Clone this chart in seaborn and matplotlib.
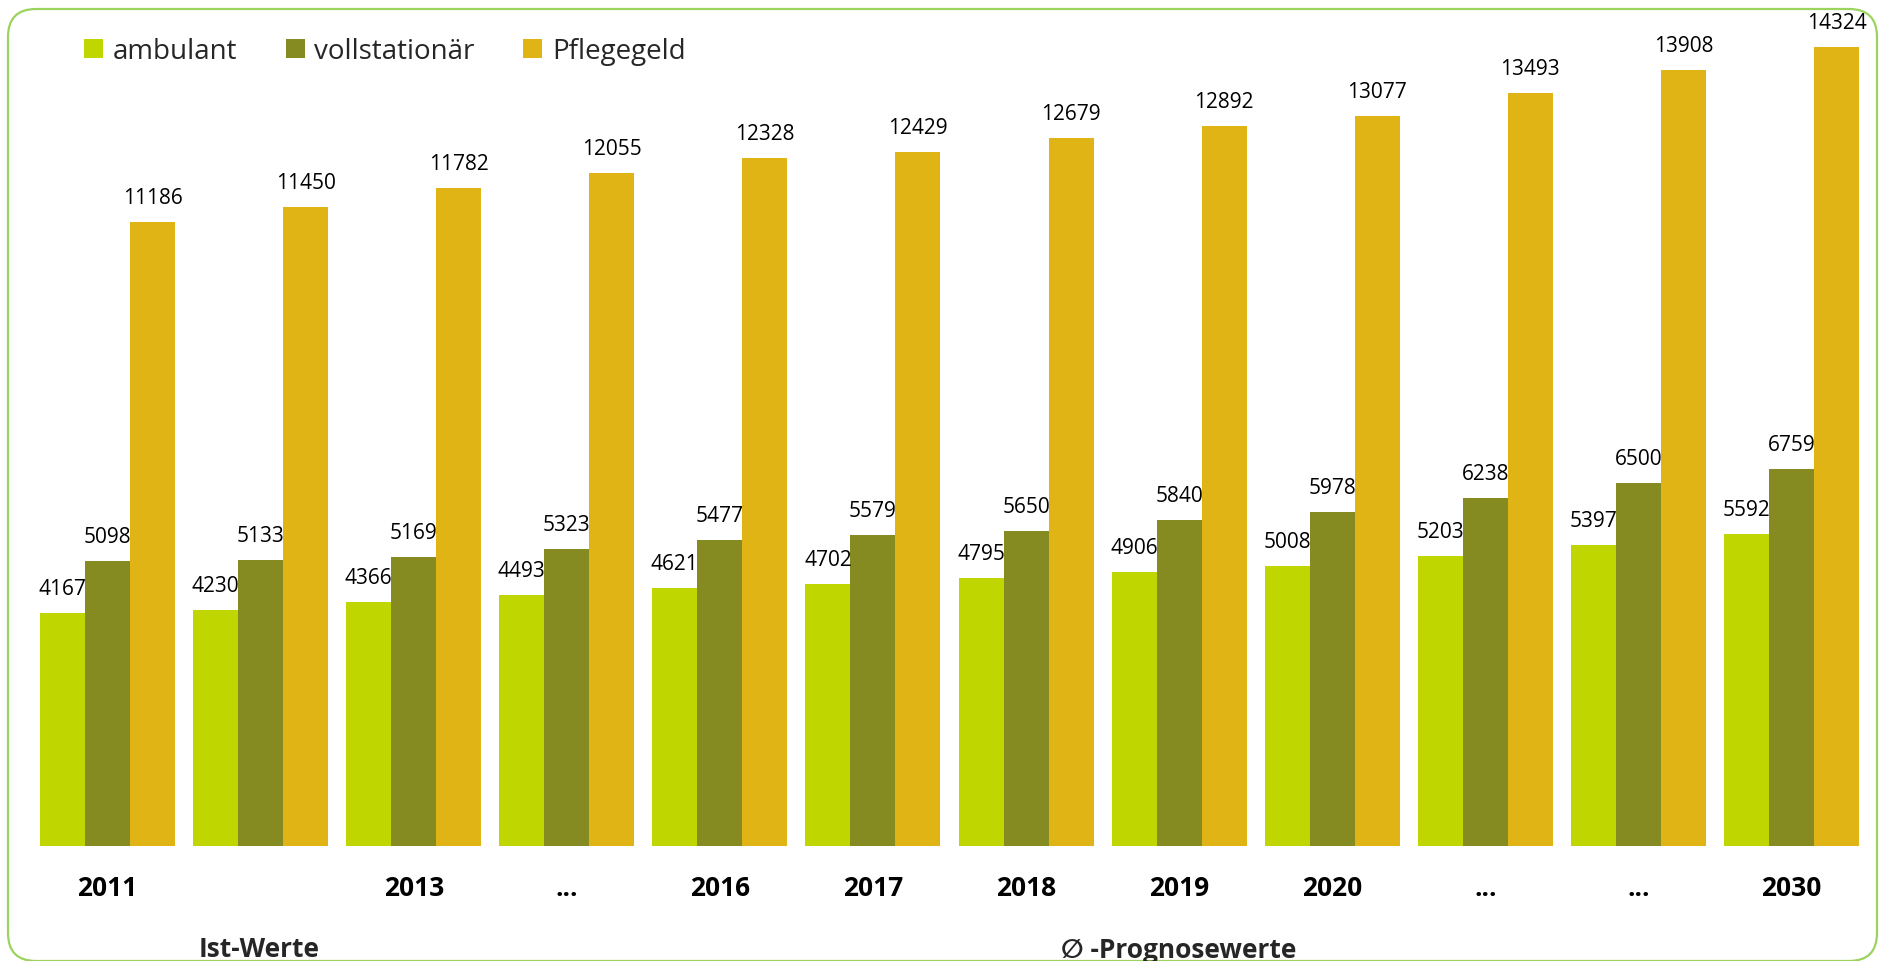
import matplotlib
matplotlib.use("Agg")
import matplotlib.pyplot as plt
from matplotlib.patches import FancyBboxPatch
import seaborn as sns
import pandas as pd

# ---- data ----
tick_labels = ["2011", "", "2013", "...", "2016", "2017", "2018", "2019", "2020", "...", "...", "2030"]
ambulant = [4167, 4230, 4366, 4493, 4621, 4702, 4795, 4906, 5008, 5203, 5397, 5592]
vollstationaer = [5098, 5133, 5169, 5323, 5477, 5579, 5650, 5840, 5978, 6238, 6500, 6759]
pflegegeld = [11186, 11450, 11782, 12055, 12328, 12429, 12679, 12892, 13077, 13493, 13908, 14324]
series_names = ["ambulant", "vollstationär", "Pflegegeld"]
colors = ["#BFD600", "#858A21", "#E1B416"]

groups = list(range(len(tick_labels)))
rows = []
for name, vals in zip(series_names, [ambulant, vollstationaer, pflegegeld]):
    for g, v in zip(groups, vals):
        rows.append({"group": g, "serie": name, "wert": v})
df = pd.DataFrame(rows)

sns.set_theme(style="white")
plt.rcParams["font.family"] = ["Open Sans", "DejaVu Sans"]

W, H = 1879, 962
fig = plt.figure(figsize=(W / 100, H / 100), dpi=100)
ax = fig.add_axes([31 / W, 115 / H, 1837 / W, 827 / H])

sns.barplot(data=df, x="group", y="wert", hue="serie", hue_order=series_names,
            palette=colors, width=0.882, gap=0, errorbar=None, saturation=1,
            linewidth=0, ax=ax)

ax.set_xlim(-0.5, len(groups) - 0.5)
ax.set_ylim(0, 14817)
for s in ax.spines.values():
    s.set_visible(False)
ax.set_yticks([])
ax.set_xticks(groups)
ax.set_xticklabels(tick_labels, fontsize=19, fontweight="bold", color="black")
ax.tick_params(axis="x", length=0, pad=20)
ax.set_xlabel("")
ax.set_ylabel("")

for cont in ax.containers:
    for bar in cont:
        h = bar.get_height()
        ax.annotate(f"{int(round(h))}", (bar.get_x() + bar.get_width() / 2, h),
                    xytext=(0, 19), textcoords="offset pixels",
                    ha="center", va="baseline", fontsize=15, color="black")

sns.move_legend(ax, "upper left", bbox_to_anchor=(84 / W, 1 - 38 / H),
                bbox_transform=fig.transFigure, ncol=3, frameon=False, title=None,
                fontsize=20, handlelength=0.68, handleheight=0.68, handletextpad=0.35,
                columnspacing=1.75, borderpad=0, borderaxespad=0)

fig.text(259 / W, 1 - 950 / H, "Ist-Werte", ha="center", va="center",
         fontsize=19, fontweight="bold")
fig.text(1179 / W, 1 - 951 / H, "∅ -Prognosewerte", ha="center", va="center",
         fontsize=19, fontweight="bold", family=["Open Sans", "DejaVu Sans"])

border = FancyBboxPatch((0.08, 0.0), 18.69, 9.52,
                        boxstyle="round,pad=0,rounding_size=0.28",
                        transform=fig.dpi_scale_trans, fill=False,
                        edgecolor="#9AD45E", linewidth=1.6, clip_on=False)
fig.patches.append(border)

fig.savefig("out.png", dpi=100)
